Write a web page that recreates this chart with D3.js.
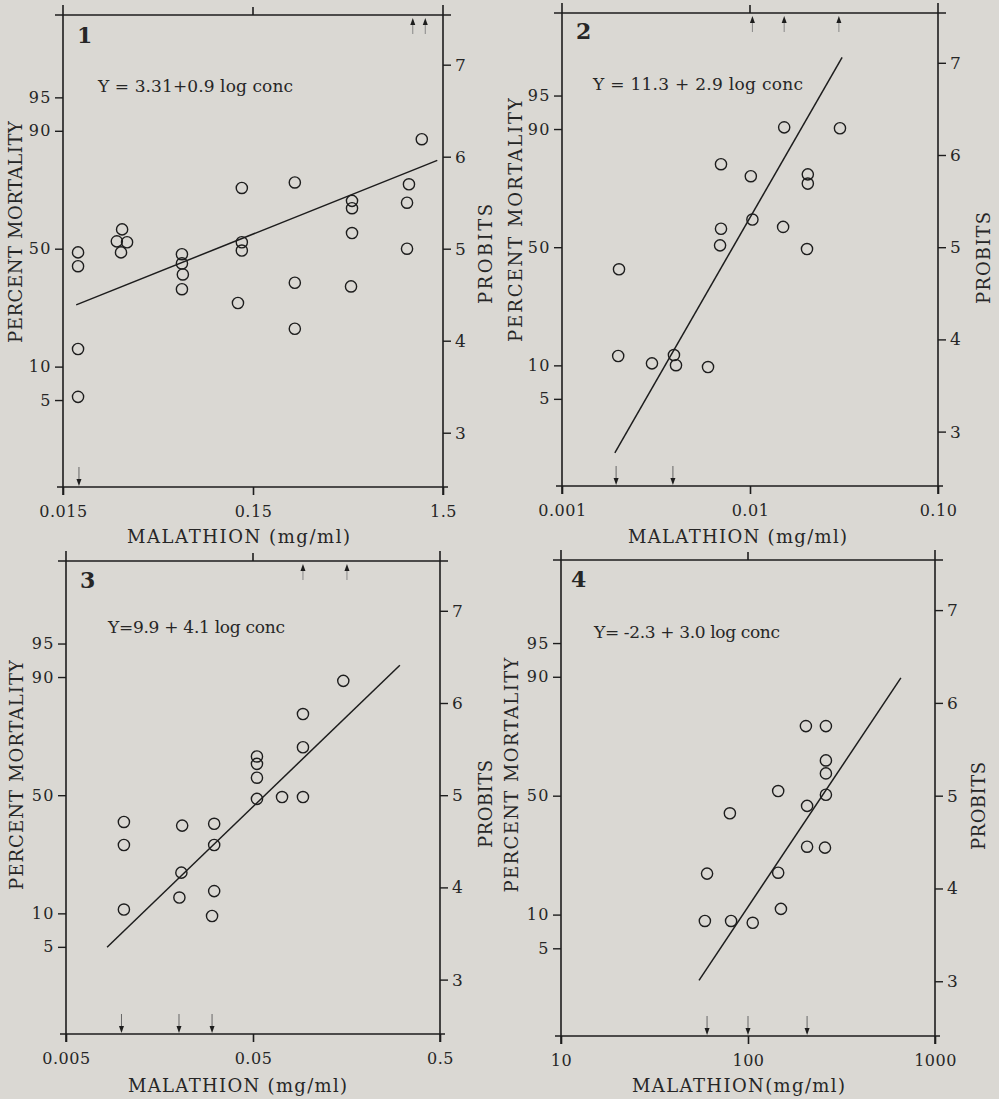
<!DOCTYPE html>
<html>
<head>
<meta charset="utf-8">
<script src="https://cdn.jsdelivr.net/npm/d3@7"></script>
<style>
  body { margin: 0; background: #dad8d3; }
  svg { display: block; }
  text { font-family: "DejaVu Serif", serif; fill: #262626; }
</style>
</head>
<body>
<svg id="chart" width="999" height="1099"></svg>
<script>
// values (y values are probits, read against the right axis)
const probitTicks = [3, 4, 5, 6, 7];
const percentTicks = [5, 10, 50, 90, 95];
const probitDomain = [2.41, 7.54];

// panel 1
const p1Ticks = [0.015, 0.15, 1.5];
const p1TickLabels = ["0.015", "0.15", "1.5"];
const p1Conc =   [0.018, 0.018, 0.018, 0.018, 0.0307, 0.0288, 0.0326, 0.0303, 0.0634, 0.0634, 0.0641, 0.0634,
                  0.131, 0.131, 0.131, 0.125, 0.249, 0.249, 0.249, 0.498, 0.498, 0.498, 0.492, 0.993, 0.97, 0.97, 1.16];
const p1Probit = [4.96, 4.81, 3.91, 3.39, 5.21, 5.08, 5.07, 4.96, 4.94, 4.84, 4.72, 4.56,
                  5.66, 5.07, 4.98, 4.41, 5.72, 4.63, 4.13, 5.52, 5.44, 5.17, 4.59, 5.70, 5.50, 5.00, 6.19];
const p1LineConc = [0.0176, 1.40];
const p1LineProbit = [4.39, 5.96];
const p1UpArrows = [1.04, 1.21];
const p1DownArrows = [0.0182];
const p1Equation = "Y = 3.31+0.9 log conc";
const p1XTitle = "MALATHION  (mg/ml)";

// panel 2
const p2Ticks = [0.001, 0.01, 0.1];
const p2TickLabels = ["0.001", "0.01", "0.10"];
const p2Conc =   [0.00201, 0.00701, 0.00701, 0.00693, 0.0101, 0.0103, 0.0152, 0.0150, 0.0203, 0.0203, 0.0201, 0.0301,
                  0.00199, 0.00301, 0.00394, 0.00404, 0.00598];
const p2Probit = [4.76, 5.90, 5.20, 5.02, 5.77, 5.30, 6.30, 5.22, 5.79, 5.69, 4.98, 6.29,
                  3.82, 3.74, 3.83, 3.72, 3.70];
const p2LineConc = [0.00191, 0.0309];
const p2LineProbit = [2.77, 7.06];
const p2UpArrows = [0.0103, 0.0152, 0.0297];
const p2DownArrows = [0.00194, 0.00389];
const p2Equation = "Y = 11.3 + 2.9 log conc";
const p2XTitle = "MALATHION (mg/ml)";

// panel 3
const p3Ticks = [0.005, 0.05, 0.5];
const p3TickLabels = ["0.005", "0.05", "0.5"];
const p3Conc =   [0.152, 0.0925, 0.0925, 0.0925, 0.0525, 0.0525, 0.0525, 0.0525, 0.0715, 0.0102, 0.0209, 0.031,
                  0.0102, 0.031, 0.0207, 0.0202, 0.031, 0.0102, 0.0302];
const p3Probit = [6.24, 5.88, 5.52, 4.98, 5.42, 5.34, 5.19, 4.96, 4.98, 4.71, 4.67, 4.69,
                  4.46, 4.46, 4.16, 3.89, 3.96, 3.76, 3.69];
const p3LineConc = [0.00829, 0.305];
const p3LineProbit = [3.35, 6.41];
const p3UpArrows = [0.0925, 0.159];
const p3DownArrows = [0.0099, 0.0201, 0.0302];
const p3Equation = "Y=9.9 + 4.1 log conc";
const p3XTitle = "MALATHION (mg/ml)";

// panel 4
const p4Ticks = [10, 100, 1000];
const p4TickLabels = ["10", "100", "1000"];
const p4Conc =   [204, 261, 261, 261, 261, 145, 207, 80, 207, 258, 60.4, 145, 150, 58.8, 81.2, 106];
const p4Probit = [5.75, 5.75, 5.38, 5.24, 5.01, 5.05, 4.89, 4.81, 4.45, 4.44, 4.16, 4.17, 3.78, 3.65, 3.65, 3.63];
const p4LineConc = [54.7, 657];
const p4LineProbit = [3.01, 6.27];
const p4UpArrows = [];
const p4DownArrows = [60.4, 100, 207];
const p4Equation = "Y= -2.3 + 3.0 log conc";
const p4XTitle = "MALATHION(mg/ml)";

// percent -> probit (5 + inverse normal), used to place the percent ticks
function erf(x) {
  const t = 1 / (1 + 0.3275911 * Math.abs(x));
  const y = 1 - (((((1.061405429 * t - 1.453152027) * t) + 1.421413741) * t - 0.284496736) * t + 0.254829592) * t * Math.exp(-x * x);
  return x >= 0 ? y : -y;
}
function probit(pct) {
  let lo = -6, hi = 6;
  for (let i = 0; i < 60; i++) {
    const m = (lo + hi) / 2;
    if (0.5 * (1 + erf(m / Math.SQRT2)) < pct / 100) lo = m; else hi = m;
  }
  return 5 + (lo + hi) / 2;
}

// layout of the four panels
const panels = [
  { num: "1", x0: 63, x1: 443, y0: 15, y1: 487, ticks: p1Ticks, labels: p1TickLabels, conc: p1Conc, pr: p1Probit,
    lc: p1LineConc, lp: p1LineProbit, up: p1UpArrows, down: p1DownArrows, eq: p1Equation, xt: p1XTitle,
    numPos: [77, 43], eqPos: [98, 92, 195], yt: [22, 232, 222], rt: [492, 254, 100], xtPos: [127, 543, 223] },
  { num: "2", x0: 562, x1: 938, y0: 13, y1: 486, ticks: p2Ticks, labels: p2TickLabels, conc: p2Conc, pr: p2Probit,
    lc: p2LineConc, lp: p2LineProbit, up: p2UpArrows, down: p2DownArrows, eq: p2Equation, xt: p2XTitle,
    numPos: [576, 39], eqPos: [593, 90, 210], yt: [522, 220, 244], rt: [990, 258, 92], xtPos: [628, 543, 219] },
  { num: "3", x0: 66, x1: 440, y0: 561, y1: 1034, ticks: p3Ticks, labels: p3TickLabels, conc: p3Conc, pr: p3Probit,
    lc: p3LineConc, lp: p3LineProbit, up: p3UpArrows, down: p3DownArrows, eq: p3Equation, xt: p3XTitle,
    numPos: [80, 588], eqPos: [108, 633, 177], yt: [23, 775, 230], rt: [492, 804, 88], xtPos: [128, 1092, 219] },
  { num: "4", x0: 561, x1: 935, y0: 560, y1: 1036, ticks: p4Ticks, labels: p4TickLabels, conc: p4Conc, pr: p4Probit,
    lc: p4LineConc, lp: p4LineProbit, up: p4UpArrows, down: p4DownArrows, eq: p4Equation, xt: p4XTitle,
    numPos: [571, 587], eqPos: [594, 638, 186], yt: [518, 775, 235], rt: [985, 806, 88], xtPos: [632, 1092, 213] }
];

const ink = "#1d1d1d";
const svg = d3.select("#chart");
svg.append("rect").attr("width", 999).attr("height", 1099).attr("fill", "#dad8d3");

panels.forEach(p => {
  const x = d3.scaleLog().domain([p.ticks[0], p.ticks[2]]).range([p.x0, p.x1]);
  const y = d3.scaleLinear().domain(probitDomain).range([p.y1, p.y0]);
  const g = svg.append("g");

  // frame lines, drawn a little past the corners like the original
  const frame = [
    [p.x0 - 8, p.y0, p.x1 + 8, p.y0],
    [p.x0 - 6, p.y1, p.x1 + 5, p.y1],
    [p.x0, p.y0 - 10, p.x0, p.y1 + 8],
    [p.x1, p.y0 - 10, p.x1, p.y1 + 8],
    [x(p.ticks[1]), p.y0 - 8, x(p.ticks[1]), p.y0]
  ];
  g.selectAll("line.frame").data(frame).enter().append("line")
    .attr("x1", d => d[0]).attr("y1", d => d[1]).attr("x2", d => d[2]).attr("y2", d => d[3])
    .attr("stroke", ink).attr("stroke-width", 1.6);

  // bottom axis (log concentration)
  g.append("g")
    .attr("transform", "translate(0," + p.y1 + ")")
    .call(d3.axisBottom(x).tickValues(p.ticks).tickFormat((d, i) => p.labels[i]).tickSize(8).tickPadding(11))
    .call(a => a.select(".domain").remove())
    .call(a => a.selectAll("line").attr("stroke", ink).attr("stroke-width", 1.6))
    .call(a => a.selectAll("text").attr("font-family", "DejaVu Serif").attr("font-size", 16)
      .attr("letter-spacing", 0.5).attr("fill", "#262626"));

  // left axis, percent mortality on a probit scale
  g.append("g")
    .attr("transform", "translate(" + p.x0 + ",0)")
    .call(d3.axisLeft(y).tickValues(percentTicks.map(probit)).tickFormat((d, i) => percentTicks[i]).tickSize(8).tickPadding(3))
    .call(a => a.select(".domain").remove())
    .call(a => a.selectAll("line").attr("stroke", ink).attr("stroke-width", 1.4))
    .call(a => a.selectAll("text").attr("font-family", "DejaVu Serif").attr("font-size", 16)
      .attr("letter-spacing", 1.5).attr("fill", "#262626"));

  // right axis, probits
  g.append("g")
    .attr("transform", "translate(" + p.x1 + ",0)")
    .call(d3.axisRight(y).tickValues(probitTicks).tickFormat(d3.format("d")).tickSize(8).tickPadding(4))
    .call(a => a.select(".domain").remove())
    .call(a => a.selectAll("line").attr("stroke", ink).attr("stroke-width", 1.4))
    .call(a => a.selectAll("text").attr("font-family", "DejaVu Serif").attr("font-size", 17).attr("fill", "#262626"));

  // regression line
  g.append("line")
    .attr("x1", x(p.lc[0])).attr("y1", y(p.lp[0]))
    .attr("x2", x(p.lc[1])).attr("y2", y(p.lp[1]))
    .attr("stroke", ink).attr("stroke-width", 1.5);

  // observations
  g.selectAll("circle").data(p.conc).enter().append("circle")
    .attr("cx", d => x(d))
    .attr("cy", (d, i) => y(p.pr[i]))
    .attr("r", 5.6)
    .attr("fill", "none").attr("stroke", ink).attr("stroke-width", 1.4);

  // arrows for 100% (top) and 0% (bottom) kills
  p.up.forEach(c => {
    const ax = x(c);
    g.append("line").attr("x1", ax).attr("x2", ax).attr("y1", p.y0 + 8).attr("y2", p.y0 + 19)
      .attr("stroke", "#888").attr("stroke-width", 1);
    g.append("path").attr("d", `M${ax},${p.y0 + 3}L${ax - 2.5},${p.y0 + 10}L${ax + 2.5},${p.y0 + 10}Z`).attr("fill", ink);
  });
  p.down.forEach(c => {
    const ax = x(c);
    g.append("line").attr("x1", ax).attr("x2", ax).attr("y1", p.y1 - 20).attr("y2", p.y1 - 7)
      .attr("stroke", "#666").attr("stroke-width", 1);
    g.append("path").attr("d", `M${ax},${p.y1 - 1}L${ax - 2.5},${p.y1 - 8}L${ax + 2.5},${p.y1 - 8}Z`).attr("fill", ink);
  });

  // panel number
  g.append("text").attr("x", p.numPos[0]).attr("y", p.numPos[1])
    .attr("font-family", "DejaVu Sans").attr("font-weight", "bold").attr("font-size", 22)
    .text(p.num);

  // fitted equation
  g.append("text").attr("x", p.eqPos[0]).attr("y", p.eqPos[1])
    .attr("font-size", 17).attr("textLength", p.eqPos[2]).attr("lengthAdjust", "spacing")
    .text(p.eq);

  // axis titles
  g.append("text").attr("x", p.xtPos[0]).attr("y", p.xtPos[1])
    .attr("font-size", 18).attr("textLength", p.xtPos[2]).attr("lengthAdjust", "spacing")
    .text(p.xt);

  g.append("text")
    .attr("transform", "translate(" + p.yt[0] + "," + p.yt[1] + ") rotate(-90)")
    .attr("text-anchor", "middle").attr("font-size", 18)
    .attr("textLength", p.yt[2]).attr("lengthAdjust", "spacing")
    .text("PERCENT MORTALITY");

  g.append("text")
    .attr("transform", "translate(" + p.rt[0] + "," + p.rt[1] + ") rotate(-90)")
    .attr("text-anchor", "middle").attr("font-size", 18)
    .attr("textLength", p.rt[2]).attr("lengthAdjust", "spacing")
    .text("PROBITS");
});
</script>
</body>
</html>
